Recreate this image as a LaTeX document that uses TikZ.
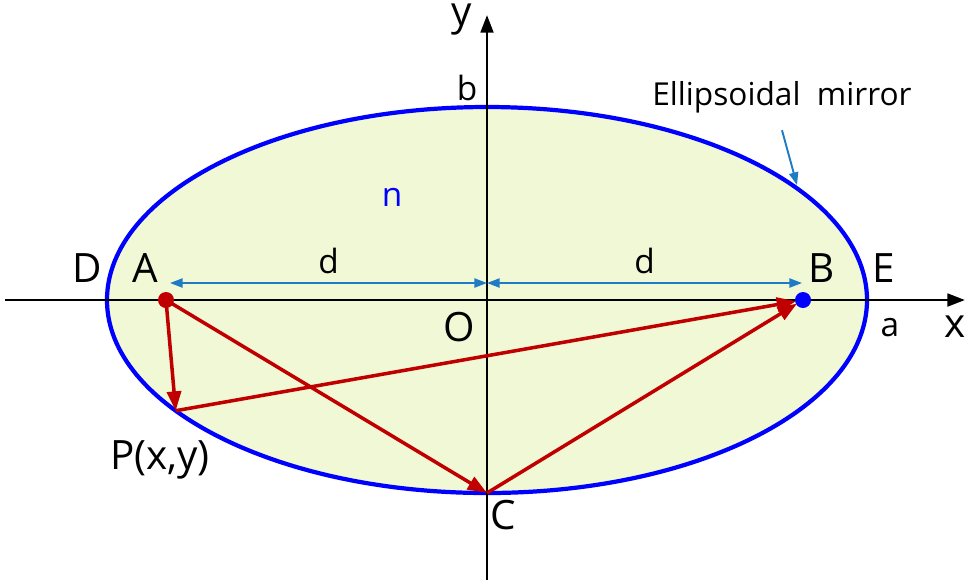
\documentclass[tikz,border=0pt]{standalone}
\usepackage{fontspec}
\setmainfont{Open Sans}
\usetikzlibrary{arrows.meta}
\definecolor{rojoRayo}{HTML}{C00000}
\definecolor{azulEspejo}{HTML}{0000FF}
\definecolor{azulCota}{HTML}{1F7CC4}
\definecolor{fondoElipse}{HTML}{F1F8D6}
\begin{document}
\begin{tikzpicture}[>=Stealth,
  ray/.style={rojoRayo,line width=1pt,-{Triangle[length=5.5pt,width=4pt]}},
  cota/.style={azulCota,line width=0.55pt,{Triangle[length=3.6pt,width=2.6pt]}-{Triangle[length=3.6pt,width=2.6pt]}},
  lbl/.style={font=\fontsize{11.5}{12}\selectfont},
  sml/.style={font=\fontsize{9.5}{10}\selectfont}]
  \useasboundingbox (-4.87,-2.82) rectangle (4.78,3.00);
  % ellipse (mirror)
  \filldraw[fill=fondoElipse,draw=azulEspejo,line width=1.2pt] (0,0) ellipse (3.8 and 1.93);
  % axes
  \draw[line width=0.8pt,-{Triangle[length=5pt,width=3.6pt]}] (-4.82,0) -- (4.78,0);
  \draw[line width=0.8pt,-{Triangle[length=5pt,width=3.6pt]}] (0,-2.80) -- (0,2.85);
  % points
  \coordinate (O) at (0,0);
  \coordinate (A) at (-3.21,0);
  \coordinate (B) at (3.16,0);
  \coordinate (C) at (0,-1.93);
  \coordinate (P) at (215:3.8 and 1.93);
  \coordinate (dL) at (-3.17,0.17);
  \coordinate (dM) at (0,0.17);
  \coordinate (dR) at (3.15,0.17);
  % rays
  \draw[ray] (A) -- (P);
  \draw[ray,shorten >=0.07cm] (P) -- (B);
  \draw[ray] (A) -- (C);
  \draw[ray,shorten >=0.07cm] (C) -- (B);
  \fill[rojoRayo] (A) circle (0.08);
  \fill[azulEspejo] (B) circle (0.08);
  % distances
  \draw[cota] (dL) -- (dM) node[midway,above=-1pt,sml,black]{d};
  \draw[cota] (dM) -- (dR) node[midway,above=-1pt,sml,black]{d};
  % labels
  \node[lbl] (labD) at (-4.00,0.32) {D};
  \node[lbl] (labA) at (-3.42,0.32) {A};
  \node[lbl] (labB) at (3.35,0.32) {B};
  \node[lbl] (labE) at (3.97,0.32) {E};
  \node[sml] (laba) at (4.03,-0.28) {a};
  \node[lbl] (labx) at (4.68,-0.27) {x};
  \node[lbl] (laby) at (-0.25,2.80) {y};
  \node[sml] (labb) at (-0.20,2.12) {b};
  \node[lbl] (labO) at (-0.28,-0.27) {O};
  \node[lbl] (labC) at (0.16,-2.15) {C};
  \node[sml,azulEspejo] (labn) at (-0.95,1.03) {n};
  \node[lbl] (labP) at (-3.27,-1.60) {P(x,y)};
  \node[font=\fontsize{9}{10}\selectfont] (mirror) at (2.95,2.03) {Ellipsoidal\ \ mirror};
  \coordinate (mirTip) at (3.10,1.15);
  \draw[azulCota,line width=0.55pt,-{Triangle[length=3.6pt,width=2.6pt]}] (mirror.south)++(0,-0.05) -- (mirTip);
\end{tikzpicture}
\end{document}
